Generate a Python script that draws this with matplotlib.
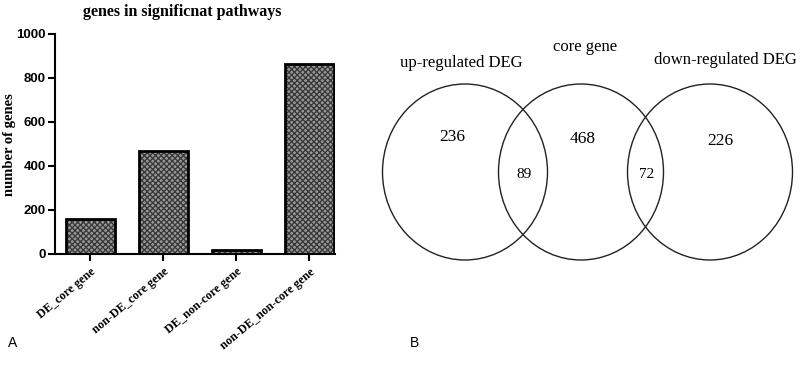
import matplotlib.pyplot as plt
from matplotlib.patches import Ellipse

# Panel A data
categories = ["DE_core gene", "non-DE_core gene", "DE_non-core gene", "non-DE_non-core gene"]
counts = [161, 468, 18, 862]
yticks = [0, 200, 400, 600, 800, 1000]

# Panel B data
set_names = ["up-regulated DEG", "core gene", "down-regulated DEG"]
only_counts = [236, 468, 226]
overlap_counts = [89, 72]

serif = ["Liberation Serif", "DejaVu Serif"]
sans = ["Liberation Sans", "DejaVu Sans"]

fig = plt.figure(figsize=(8, 3.74), dpi=100)

# ---------------- A: bar chart ----------------
ax = fig.add_axes([55 / 800, 1 - 254 / 374, 280 / 800, 220 / 374])
x = range(len(categories))
ax.bar(x, counts, width=0.67, color="#9a9a9a", edgecolor="#3a3a3a", hatch="xxxxxx", linewidth=0)
ax.bar(x, counts, width=0.67, fill=False, edgecolor="black", linewidth=2)
ax.set_xlim(-0.48, 3.35)
ax.set_ylim(0, 1000)
ax.set_yticks(yticks)
ax.set_yticklabels([str(v) for v in yticks], fontweight="bold", family=sans, fontsize=9.5)
ax.set_xticks(list(x))
ax.set_xticklabels(categories, rotation=40, ha="right", rotation_mode="anchor",
                   fontweight="bold", family=serif, fontsize=8.7)
ax.tick_params(direction="out", length=5, width=1.5)
ax.tick_params(axis="y", pad=1.5)
for s in ["top", "right"]:
    ax.spines[s].set_visible(False)
for s in ["left", "bottom"]:
    ax.spines[s].set_linewidth(1.5)

fig.text(10 / 800, 1 - 145 / 374, "number of genes", rotation=90, fontweight="bold",
         family=serif, fontsize=10.5, ha="center", va="center")
fig.text(182 / 800, 1 - 12 / 374, "genes in significnat pathways", fontweight="bold",
         family=serif, fontsize=11.5, ha="center", va="center")

# ---------------- B: venn ----------------
vx = fig.add_axes([0, 0, 1, 1], zorder=-1)
vx.set_xlim(0, 800)
vx.set_ylim(374, 0)
vx.axis("off")
centers = [(465, 172), (581, 172), (710, 172)]
for c in centers:
    vx.add_patch(Ellipse(c, 165, 176, fill=False, edgecolor="#222", linewidth=1))

name_pos = [(461, 63), (585, 47), (725, 60)]
for name, p in zip(set_names, name_pos):
    vx.text(p[0], p[1], name, family=serif, fontsize=12, ha="center", va="center")

only_pos = [(452, 137), (583, 139), (720, 141)]
for v, p in zip(only_counts, only_pos):
    vx.text(p[0], p[1], str(v), family=serif, fontsize=12.5, ha="center", va="center")

ov_pos = [(524, 174), (647, 174)]
for v, p in zip(overlap_counts, ov_pos):
    vx.text(p[0], p[1], str(v), family=serif, fontsize=11, ha="center", va="center")

vx.text(8, 343, "A", family=sans, fontsize=10, va="center")
vx.text(410, 343, "B", family=sans, fontsize=10, va="center")

fig.savefig("out.png", dpi=100)
